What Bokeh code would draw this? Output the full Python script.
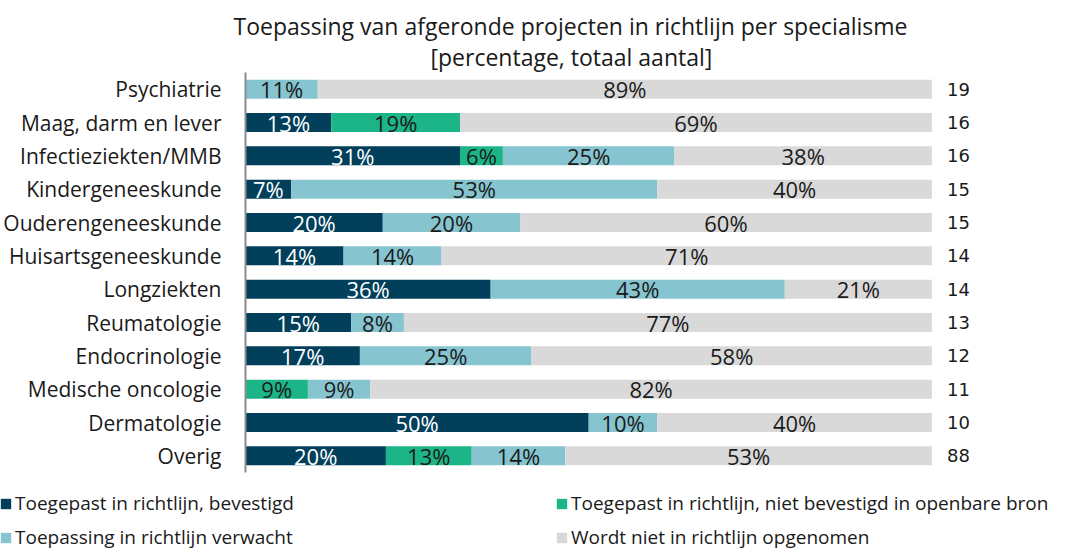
from bokeh.plotting import figure
from bokeh.layouts import column
from bokeh.models import ColumnDataSource, Range1d, FactorRange, Legend, LegendItem, Title
from bokeh.embed import file_html
from bokeh.resources import INLINE
from bokeh.core.properties import value

# ---- data (counts per specialism) ----
categories = ["Psychiatrie", "Maag, darm en lever", "Infectieziekten/MMB", "Kindergeneeskunde",
              "Ouderengeneeskunde", "Huisartsgeneeskunde", "Longziekten", "Reumatologie",
              "Endocrinologie", "Medische oncologie", "Dermatologie", "Overig"]
totals = [19, 16, 16, 15, 15, 14, 14, 13, 12, 11, 10, 88]
bevestigd = [0, 2, 5, 1, 3, 2, 5, 2, 2, 0, 5, 18]
niet_bevestigd = [0, 3, 1, 0, 0, 0, 0, 0, 0, 1, 0, 11]
verwacht = [2, 0, 4, 8, 3, 2, 6, 1, 3, 1, 1, 12]
niet_opgenomen = [17, 11, 6, 6, 9, 10, 3, 10, 7, 9, 4, 47]

series_names = ["Toegepast in richtlijn, bevestigd",
                "Toegepast in richtlijn, niet bevestigd in openbare bron",
                "Toepassing in richtlijn verwacht",
                "Wordt niet in richtlijn opgenomen"]
series = [bevestigd, niet_bevestigd, verwacht, niet_opgenomen]
colors = ["#013F5B", "#1CB587", "#86C4CF", "#D9D9D9"]
label_colors = ["#FFFFFF", "#1A1A1A", "#1A1A1A", "#1A1A1A"]
title_lines = ["Toepassing van afgeronde projecten in richtlijn per specialisme",
               "[percentage, totaal aantal]"]

FONT = "Open Sans"
W = 1088

keys = ["s0", "s1", "s2", "s3"]
data = {"cat": categories}
for k, s in zip(keys, series):
    data[k] = [100.0 * v / t for v, t in zip(s, totals)]
source = ColumnDataSource(data)

p = figure(width=W, height=478, output_backend="svg", toolbar_location=None,
           y_range=FactorRange(factors=categories[::-1]), x_range=Range1d(0, 110),
           min_border_left=240, min_border_right=W - 240 - 760, min_border_top=72,
           min_border_bottom=6)
p.frame_align = False

renderers = p.hbar_stack(keys, y="cat", height=0.57, color=colors, line_color=None, source=source)

# segment labels
lx, ly, lt, lc = [], [], [], []
left = [0.0] * len(categories)
for k, col in zip(keys, label_colors):
    for i, v in enumerate(data[k]):
        if v > 0:
            lx.append(left[i] + v / 2.0)
            ly.append(categories[i])
            lt.append("%d%%" % int(v + 0.5))
            lc.append(col)
        left[i] += v
p.text(x=lx, y=ly, text=lt, text_color=lc, text_align="center", text_baseline="middle",
       text_font=value(FONT), text_font_size="22px")

# totals
p.text(x=[102.2] * len(categories), y=categories, text=[str(t) for t in totals],
       text_color="#1A1A1A", text_align="left", text_baseline="middle",
       text_font=value("DejaVu Sans"), text_font_size="18px")

p.xaxis.visible = False
p.xgrid.visible = False
p.ygrid.visible = False
p.outline_line_color = None
ax = p.yaxis[0]
ax.major_tick_line_color = None
ax.minor_tick_line_color = None
ax.axis_line_color = "#8C8C8C"
ax.axis_line_width = 2
ax.major_label_standoff = 18
ax.major_label_text_font = FONT
ax.major_label_text_font_size = "21px"
ax.major_label_text_color = "#1A1A1A"

# titles (second line added first so it sits closest to the plot)
for txt, off, so in zip(title_lines[::-1], [185, -12], [0, -6]):
    p.add_layout(Title(text=txt, align="left", offset=off, text_font=FONT,
                       text_font_size="23px", text_font_style="normal",
                       text_color="#1A1A1A", standoff=so), "above")

# ---- legend strip ----
lg = figure(width=W, height=72, output_backend="svg", toolbar_location=None,
            x_range=Range1d(0, 1), y_range=Range1d(0, 1),
            min_border_left=0, min_border_right=0, min_border_top=0, min_border_bottom=0)
lg.frame_align = False
lg.axis.visible = False
lg.grid.visible = False
lg.outline_line_color = None
lg_src = ColumnDataSource({"y": [-5.0], **{k: [1.0] for k in keys}})
lg_renderers = lg.hbar_stack(keys, y="y", height=0.5, color=colors, line_color=None, source=lg_src)

def make_legend(idx, loc):
    items = [LegendItem(label=series_names[i], renderers=[lg_renderers[i]]) for i in idx]
    return Legend(items=items, location=loc, border_line_color=None, background_fill_alpha=0,
                  padding=0, margin=0, spacing=8, glyph_width=13, glyph_height=13,
                  label_standoff=3, label_height=20, label_text_font=FONT,
                  label_text_font_size="19px", label_text_color="#1A1A1A")

lg.add_layout(make_legend([0, 2], (-1, 0)), "center")
lg.add_layout(make_legend([1, 3], (555, 0)), "center")

layout = column(p, lg, spacing=0)
open("out.html", "w").write(file_html(layout, INLINE))
